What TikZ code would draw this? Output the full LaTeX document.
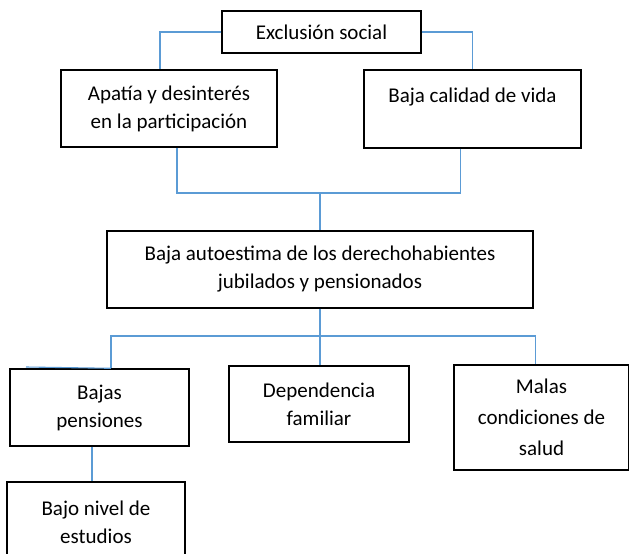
\documentclass[tikz,border=0pt]{standalone}
\usepackage{fontspec}
\setmainfont{Carlito}
\definecolor{cblue}{RGB}{91,155,213}
\begin{document}
\begin{tikzpicture}[x=1pt,y=-1pt,
  box/.style={draw=black, line width=1.4pt, align=center, inner sep=0pt,
    font=\fontsize{21}{28}\selectfont},
  conn/.style={draw=cblue, line width=1.1pt}]
\useasboundingbox (0,0) rectangle (629,554);
\fill[white] (0,0) rectangle (629,554);
\node[box, minimum width=199pt, minimum height=42pt] (ex) at (321.5,32) {Exclusión social};
\node[box, minimum width=216pt, minimum height=77pt] (ap) at (169,108.5) {Apatía y desinterés\\en la participación};
\node[box, minimum width=217pt, minimum height=78pt] (bc) at (472.5,109) {Baja calidad de vida\\\mbox{}};
\node[box, minimum width=426pt, minimum height=77pt] (ba) at (320,269.5) {Baja autoestima de los derechohabientes\\jubilados y pensionados};
\node[box, minimum width=179pt, minimum height=77pt] (bp) at (99.5,407.5) {Bajas\\pensiones};
\node[box, minimum width=180pt, minimum height=76pt] (df) at (319,404) {Dependencia\\familiar};
\node[box, minimum width=175pt, minimum height=105pt, font=\fontsize{21}{31}\selectfont] (mc) at (541.5,417.5) {Malas\\condiciones de\\salud};
\node[box, minimum width=178pt, minimum height=80pt] (bn) at (96,522) {Bajo nivel de\\estudios};
\coordinate (j1) at (320,193);
\coordinate (j2) at (320,336);
\coordinate (tk) at (26,367);
% top connectors
\draw[conn] (ex.west) -| ([xshift=-9pt]ap.north);
\draw[conn] (ex.east) -| (bc.north);
% middle
\draw[conn] ([xshift=8pt]ap.south) |- (j1);
\draw[conn] ([xshift=-12pt]bc.south) |- (j1);
\draw[conn] (j1) -- (ba.north);
% lower
\draw[conn] (ba.south) -- (j2);
\draw[conn] (j2) -| ([xshift=11.5pt]bp.north);
\draw[conn] (j2) -| ([xshift=-6pt]mc.north);
\draw[conn] (j2) -- (j2 |- df.north);
\draw[conn] (tk) -- ([xshift=11.5pt]bp.north);
\draw[conn] ([xshift=-7.5pt]bp.south) -- ([xshift=-4pt]bn.north);
\end{tikzpicture}
\end{document}
